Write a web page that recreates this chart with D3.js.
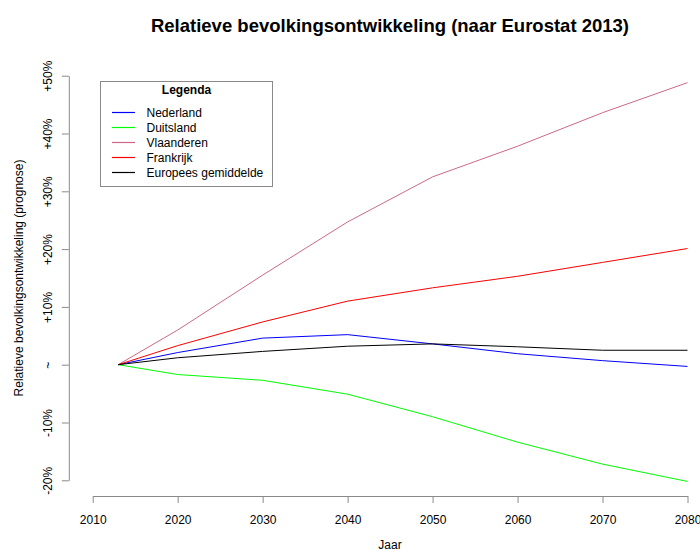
<!DOCTYPE html>
<html>
<head>
<meta charset="utf-8">
<script src="https://cdn.jsdelivr.net/npm/d3@7/dist/d3.min.js"></script>
<style>
  body { margin: 0; background: #fff; }
  svg { display: block; font-family: "Liberation Sans", Arial, Helvetica, sans-serif; }
</style>
</head>
<body>
<div id="chart-area"></div>
<script>
var years = [2013, 2020, 2030, 2040, 2050, 2060, 2070, 2080];

var nederland  = [0, 2.1, 4.6, 5.2, 3.6, 1.9, 0.7, -0.3];
var duitsland  = [0, -1.7, -2.7, -5.1, -9.0, -13.4, -17.2, -20.2];
var vlaanderen = [0, 6.0, 15.5, 24.7, 32.5, 37.8, 43.6, 48.8];
var frankrijk  = [0, 3.3, 7.4, 11.0, 13.3, 15.3, 17.7, 20.1];
var europa     = [0, 1.2, 2.3, 3.2, 3.6, 3.1, 2.5, 2.5];

var seriesNames = ["Nederland", "Duitsland", "Vlaanderen", "Frankrijk", "Europees gemiddelde"];
var seriesValues = [nederland, duitsland, vlaanderen, frankrijk, europa];
var seriesColors = ["#0000ff", "#00ff00", "#cd6889", "#ff0000", "#000000"];

var xTicks = [2010, 2020, 2030, 2040, 2050, 2060, 2070, 2080];
var yTicks = [-20, -10, 0, 10, 20, 30, 40, 50];
var yTickLabels = ["-20%", "-10%", "~", "+10%", "+20%", "+30%", "+40%", "+50%"];

var width = 700;
var height = 554;

var x = d3.scaleLinear()
  .domain([2010, 2080])
  .range([92.7, 687.5]);

var y = d3.scaleLinear()
  .domain([-20, 50])
  .range([480.3, 75.7]);

var svg = d3.select("#chart-area")
  .append("svg")
  .attr("width", width)
  .attr("height", height);

// Title
svg.append("text")
  .attr("x", 390)
  .attr("y", 32)
  .attr("text-anchor", "middle")
  .attr("font-size", "18.5px")
  .attr("font-weight", "bold")
  .text("Relatieve bevolkingsontwikkeling (naar Eurostat 2013)");

// X axis
var xAxisGroup = svg.append("g")
  .attr("transform", "translate(0,496)")
  .call(d3.axisBottom(x)
    .tickValues(xTicks)
    .tickFormat(d3.format("d"))
    .tickSizeInner(7)
    .tickSizeOuter(0));

xAxisGroup.selectAll("text")
  .attr("y", 0)
  .attr("dy", "28px")
  .attr("font-size", "12px")
  .attr("fill", "#000");

// Y axis
var yAxisGroup = svg.append("g")
  .attr("transform", "translate(68.8,0)")
  .call(d3.axisLeft(y)
    .tickValues(yTicks)
    .tickFormat(function(d, i) { return yTickLabels[i]; })
    .tickSizeInner(7)
    .tickSizeOuter(0));

yAxisGroup.selectAll("text")
  .attr("x", 0)
  .attr("dy", 0)
  .attr("text-anchor", "middle")
  .attr("font-size", "12px")
  .attr("fill", "#000")
  .attr("transform", "translate(-17,0) rotate(-90)");

svg.selectAll(".domain, .tick line")
  .attr("stroke", "#8a8a8a");

// Axis titles
svg.append("text")
  .attr("x", 390)
  .attr("y", 549)
  .attr("text-anchor", "middle")
  .attr("font-size", "12px")
  .text("Jaar");

svg.append("text")
  .attr("transform", "translate(23,278) rotate(-90)")
  .attr("text-anchor", "middle")
  .attr("font-size", "12px")
  .text("Relatieve bevolkingsontwikkeling (prognose)");

// Lines
var line = d3.line()
  .x(function(d, i) { return x(years[i]); })
  .y(function(d) { return y(d); });

svg.selectAll("path.series")
  .data(seriesValues)
  .enter()
  .append("path")
  .attr("class", "series")
  .attr("fill", "none")
  .attr("stroke-width", 1)
  .attr("stroke", function(d, i) { return seriesColors[i]; })
  .attr("d", line);

// Legend
var legend = svg.append("g")
  .attr("transform", "translate(100.5,81.5)");

legend.append("rect")
  .attr("width", 172)
  .attr("height", 105)
  .attr("fill", "#fff")
  .attr("stroke", "#8a8a8a");

legend.append("text")
  .attr("x", 86)
  .attr("y", 12.5)
  .attr("text-anchor", "middle")
  .attr("font-size", "12px")
  .attr("font-weight", "bold")
  .text("Legenda");

var entries = legend.selectAll(".entry")
  .data(seriesNames)
  .enter()
  .append("g")
  .attr("class", "entry")
  .attr("transform", function(d, i) {
    return "translate(0," + (31 + i * 15) + ")";
  });

entries.append("line")
  .attr("x1", 11.5)
  .attr("x2", 34.5)
  .attr("stroke-width", 1.2)
  .attr("stroke", function(d, i) { return seriesColors[i]; });

entries.append("text")
  .attr("x", 46)
  .attr("y", 4.3)
  .attr("font-size", "12px")
  .text(function(d) { return d; });
</script>
</body>
</html>
